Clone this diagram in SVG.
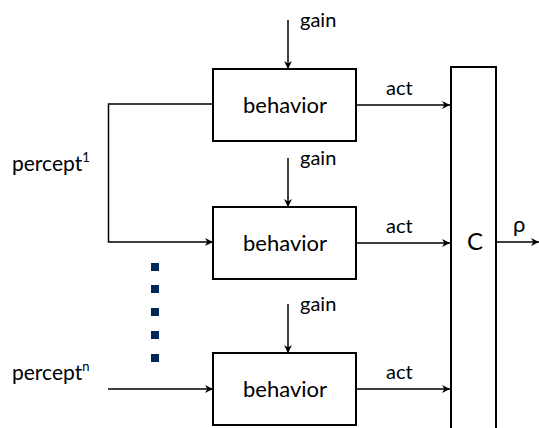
<svg xmlns="http://www.w3.org/2000/svg" width="539" height="428" viewBox="0 0 539 428">
<defs>
<marker id="ah" viewBox="0 0 10 10" refX="10" refY="5" markerWidth="8" markerHeight="8" markerUnits="userSpaceOnUse" orient="auto">
<path d="M0,0 L10,5 L0,10 L3,5 Z" fill="#000"/>
</marker>
<style>
.box{fill:#fff;stroke:#000;stroke-width:2}
.ln{fill:none;stroke:#000;stroke-width:1.5;marker-end:url(#ah)}
text{font-family:Lato,"Open Sans","Liberation Sans",sans-serif;fill:#000}
.lb{font-size:22px}
.sm{font-size:20px}
.pc{font-size:21px}
.dot{fill:#002856}
</style>
</defs>
<rect width="539" height="428" fill="#fff"/>
<g id="connectors">
<path class="ln" d="M288,20 V69"/>
<path class="ln" d="M288,158 V207"/>
<path class="ln" d="M288,304 V353"/>
<path class="ln" d="M213,104 H108.5 V242 H213"/>
<path class="ln" d="M108,389 H213"/>
<path class="ln" d="M356,105 H450"/>
<path class="ln" d="M356,243 H450"/>
<path class="ln" d="M356,389 H450"/>
<path class="ln" d="M496,242 H539"/>
</g>
<g id="behavior1"><rect class="box" x="213" y="69" width="143" height="72"/><text class="lb" x="285" y="113" text-anchor="middle">behavior</text></g>
<g id="behavior2"><rect class="box" x="213" y="207" width="143" height="72"/><text class="lb" x="285" y="251" text-anchor="middle">behavior</text></g>
<g id="behavior3"><rect class="box" x="213" y="353" width="143" height="72"/><text class="lb" x="285" y="397" text-anchor="middle">behavior</text></g>
<g id="C"><rect class="box" x="451" y="67" width="45" height="370"/><text x="475" y="250" text-anchor="middle" font-size="24">C</text></g>
<g id="labels">
<text class="sm" x="300" y="27">gain</text>
<text class="sm" x="300" y="165">gain</text>
<text class="sm" x="300" y="311">gain</text>
<text class="sm" x="386" y="95">act</text>
<text class="sm" x="386" y="233">act</text>
<text class="sm" x="386" y="379">act</text>
<text x="513" y="232" font-size="22">ρ</text>
<text class="pc" x="12" y="171">percept<tspan font-size="13" dy="-9">1</tspan></text>
<text class="pc" x="12" y="380">percept<tspan font-size="13" dy="-9">n</tspan></text>
</g>
<g id="dots">
<rect class="dot" x="151" y="263" width="8" height="8"/>
<rect class="dot" x="151" y="285" width="8" height="8"/>
<rect class="dot" x="151" y="308" width="8" height="8"/>
<rect class="dot" x="151" y="331" width="8" height="8"/>
<rect class="dot" x="151" y="354" width="8" height="8"/>
</g>
</svg>
